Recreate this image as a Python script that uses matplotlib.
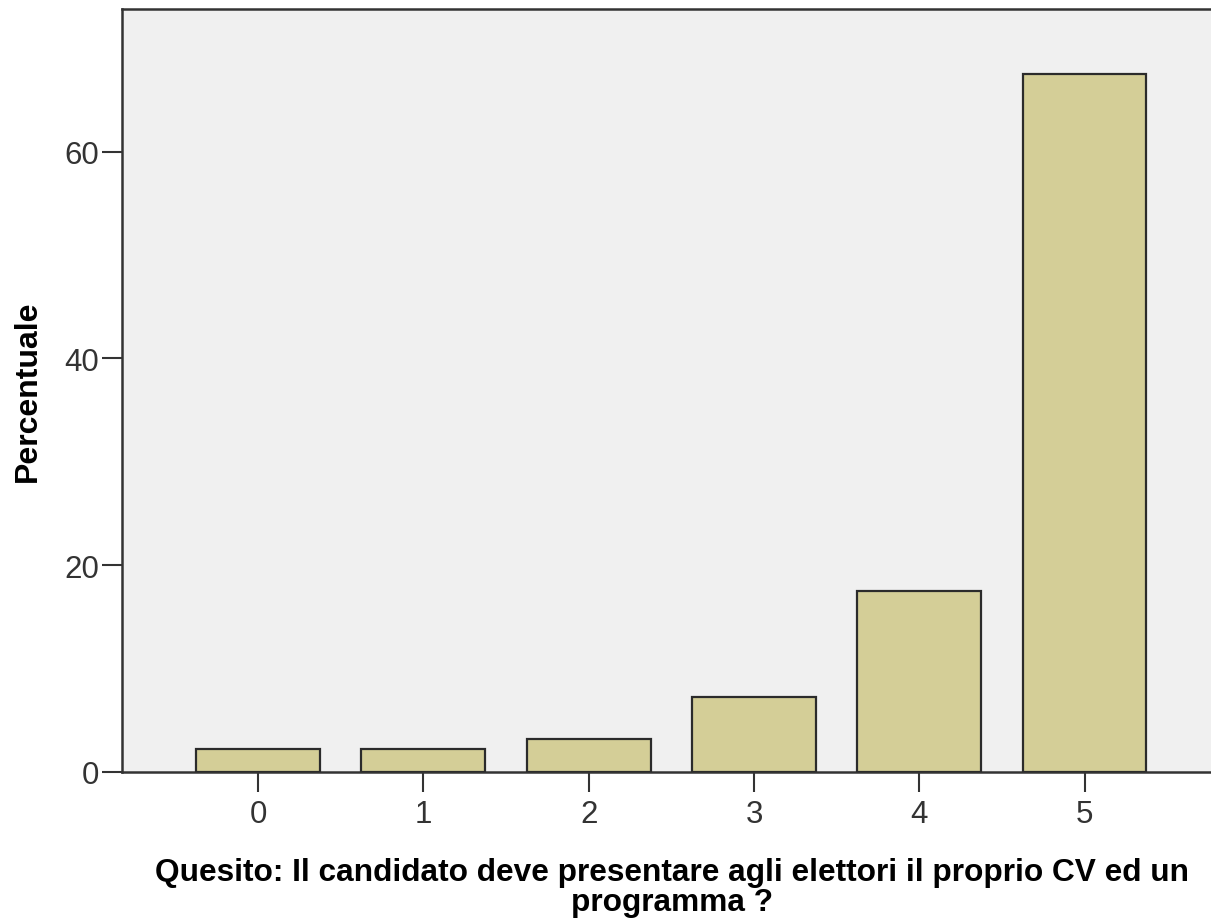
import matplotlib.pyplot as plt

plt.rcParams['font.family'] = ['Liberation Sans', 'DejaVu Sans']

# dati
categorie = ['0', '1', '2', '3', '4', '5']
percentuali = [2.2, 2.2, 3.2, 7.3, 17.5, 67.5]
yticks = [0, 20, 40, 60]

fig = plt.figure(figsize=(12.11, 9.2), dpi=100)
ax = fig.add_axes([122 / 1211, 1 - 773 / 920, 1 - 122 / 1211 + 0.002, (773 - 10) / 920])
ax.set_facecolor('#F0F0F0')

pos = list(range(len(categorie)))
ax.bar(pos, percentuali, width=0.75, color='#D4CE97', edgecolor='#2B2B2B', linewidth=1.6, zorder=3)

ax.set_xlim(-0.824, 5.78)
ax.set_ylim(0, 73.8)
ax.set_xticks(pos)
ax.set_xticklabels(categorie)
ax.set_yticks(yticks)

ax.tick_params(axis='both', length=14.5, width=1.5, color='#333333', labelsize=22.5, labelcolor='#333333', direction='out')
ax.tick_params(axis='y', pad=2)
ax.tick_params(axis='x', pad=5)
for s in ['left', 'bottom', 'top']:
    ax.spines[s].set_linewidth(1.8)
    ax.spines[s].set_color('#333333')
ax.spines['right'].set_visible(False)

# etichette degli assi
fig.text(28 / 1211, 1 - 391 / 920, 'Percentuale', rotation=90, fontsize=23, fontweight='bold',
         ha='center', va='center')
fig.text(672 / 1211, 1 - 888 / 920, 'Quesito: Il candidato deve presentare agli elettori il proprio CV ed un\nprogramma ?',
         fontsize=22.8, fontweight='bold', ha='center', va='center', linespacing=1.02)

fig.savefig('out.png', dpi=100)
